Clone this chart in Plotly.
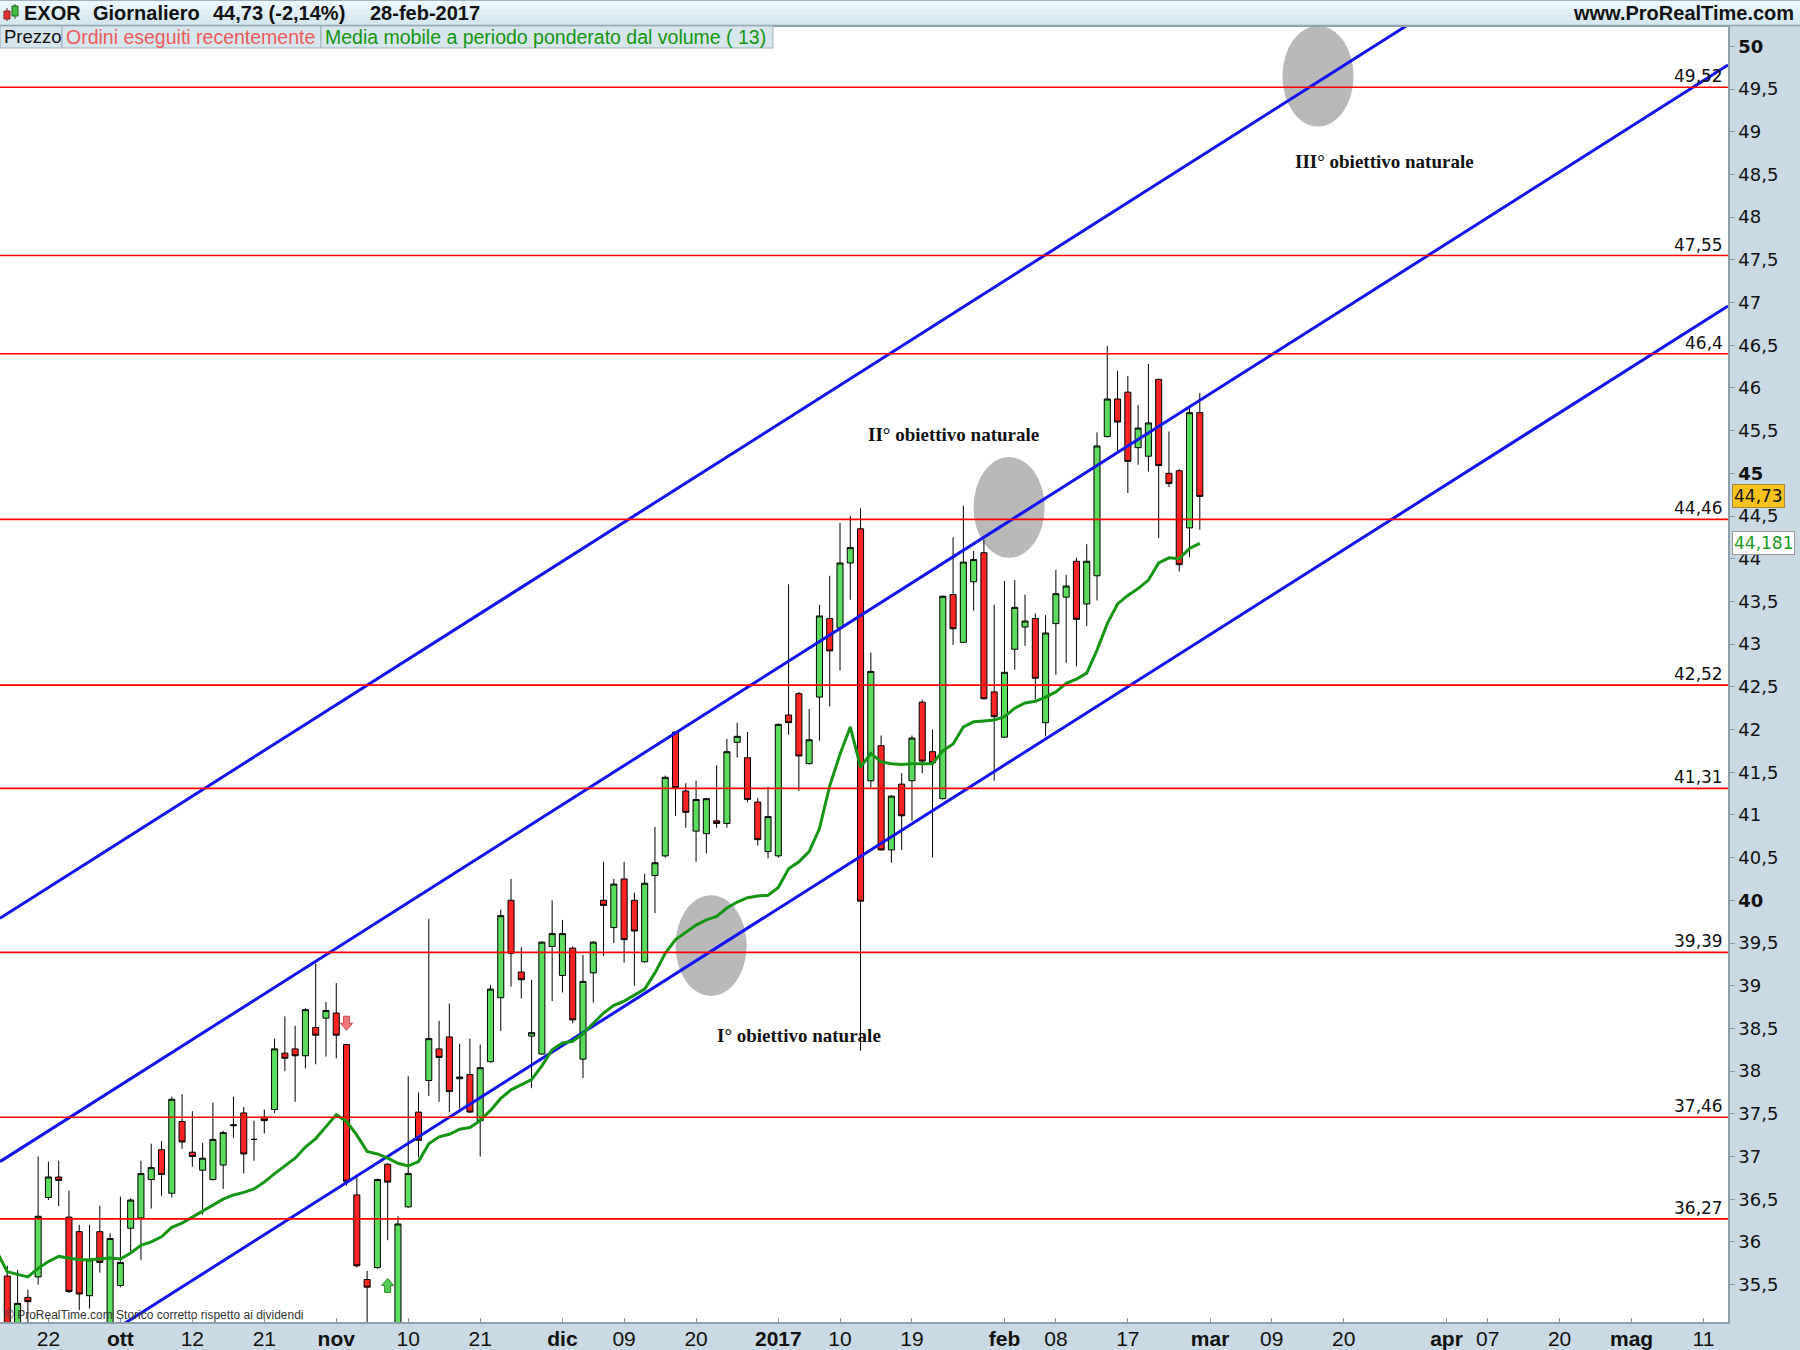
import pandas as pd
import numpy as np
import plotly.graph_objects as go

# ---------------- data ----------------
holidays = ['2016-12-26', '2017-04-14', '2017-04-17', '2017-05-01']
trading_days = [d.strftime('%Y-%m-%d') for d in pd.bdate_range('2016-09-16', '2017-05-31')
                if d.strftime('%Y-%m-%d') not in holidays]
day_index = {d: i for i, d in enumerate(trading_days)}

opens = [35.60, 34.95, 35.35, 35.59, 36.52, 36.76, 36.29, 36.12, 35.37, 36.12,
         34.95, 35.49, 36.16, 36.28, 36.73, 37.08, 36.57, 37.41, 37.05, 36.84,
         36.73, 36.90, 37.36, 37.51, 37.20, 37.46, 37.55, 38.21, 38.26, 38.18,
         38.51, 38.62, 38.68, 38.31, 36.55, 35.56, 35.70, 36.91, 34.95, 36.41,
         37.52, 37.89, 38.26, 38.40, 37.91, 37.96, 37.42, 38.11, 38.86, 40.00,
         39.16, 38.41, 38.20, 39.46, 39.12, 39.44, 38.14, 39.15, 40.00, 39.68,
         40.25, 40.00, 39.28, 40.29, 40.52, 41.97, 41.28, 40.81, 40.78, 40.93,
         40.90, 41.85, 41.67, 41.15, 40.57, 40.52, 42.17, 42.42, 41.60, 42.38,
         43.30, 43.19, 43.95, 44.35, 41.40, 41.81, 40.59, 41.36, 41.40, 42.32,
         41.74, 41.19, 43.58, 43.02, 43.73, 44.07, 42.44, 41.91, 42.94, 43.20,
         43.30, 42.08, 43.24, 43.55, 43.97, 43.47, 43.80, 45.43, 45.87, 45.95,
         45.30, 45.20, 46.10, 45.00, 45.03, 44.36, 45.71]
highs = [35.72, 35.67, 35.44, 37.00, 36.94, 36.95, 36.60, 36.20, 36.20, 36.42,
         36.10, 36.53, 36.51, 36.95, 37.15, 37.18, 37.70, 37.73, 37.53, 37.16,
         37.63, 37.30, 37.70, 37.58, 37.42, 37.55, 38.38, 38.64, 38.53, 38.74,
         39.26, 38.81, 39.03, 38.32, 36.77, 35.66, 36.74, 36.92, 36.30, 37.94,
         37.75, 39.78, 38.59, 38.79, 38.32, 38.38, 38.31, 39.01, 39.89, 40.25,
         39.45, 39.07, 39.52, 40.00, 39.77, 39.46, 39.36, 39.52, 40.45, 40.25,
         40.45, 40.09, 40.31, 40.86, 41.46, 41.98, 41.37, 41.40, 41.20, 41.58,
         41.89, 42.08, 41.97, 41.20, 41.33, 42.07, 43.70, 42.44, 42.24, 43.46,
         43.80, 44.42, 44.50, 44.59, 42.90, 41.93, 41.23, 41.49, 41.93, 42.35,
         42.00, 43.57, 44.25, 44.62, 44.09, 44.22, 43.46, 43.74, 43.75, 43.58,
         43.36, 43.34, 43.87, 43.81, 44.01, 44.17, 45.48, 46.49, 46.20, 46.14,
         45.80, 46.28, 46.11, 45.49, 45.05, 45.80, 45.94]
lows = [34.85, 34.85, 35.05, 35.50, 36.49, 36.42, 35.40, 35.20, 35.22, 35.64,
        34.85, 35.47, 35.87, 35.79, 36.39, 36.54, 36.52, 37.09, 36.88, 36.32,
        36.72, 36.62, 37.22, 36.80, 36.95, 37.27, 37.51, 38.00, 37.64, 38.03,
        38.08, 38.17, 38.15, 36.66, 35.70, 34.95, 35.68, 36.02, 34.85, 36.40,
        36.99, 37.71, 37.64, 37.52, 37.56, 37.51, 37.00, 38.10, 38.47, 38.99,
        38.85, 37.80, 38.19, 38.82, 38.92, 38.56, 37.92, 38.80, 39.35, 39.50,
        39.27, 39.00, 39.27, 39.85, 40.50, 40.99, 40.85, 40.45, 40.55, 40.85,
        40.85, 41.67, 41.15, 40.64, 40.49, 40.50, 41.94, 41.28, 41.59, 41.87,
        42.27, 42.69, 43.52, 38.24, 41.32, 40.58, 40.44, 40.59, 40.93, 41.49,
        40.50, 41.18, 42.99, 43.01, 43.39, 42.35, 41.40, 41.90, 42.70, 42.98,
        42.35, 41.92, 42.64, 42.78, 42.74, 43.21, 43.51, 45.42, 45.25, 44.77,
        45.10, 45.02, 44.24, 44.84, 43.85, 44.02, 44.34]
closes = [34.95, 35.28, 35.30, 36.30, 36.76, 36.72, 35.42, 35.39, 35.79, 35.76,
          36.04, 35.76, 36.49, 36.80, 36.87, 36.79, 37.67, 37.17, 37.00, 36.98,
          37.20, 37.28, 37.37, 37.03, 37.20, 37.42, 38.26, 38.15, 38.18, 38.72,
          38.42, 38.71, 38.42, 36.71, 35.72, 35.47, 36.73, 36.70, 36.21, 36.80,
          37.19, 38.38, 38.16, 37.76, 37.93, 37.52, 38.04, 38.96, 39.82, 39.38,
          39.07, 38.45, 39.51, 39.61, 39.61, 38.60, 39.05, 39.51, 39.94, 40.19,
          39.54, 39.64, 40.20, 40.44, 41.44, 41.32, 41.03, 41.18, 41.19, 40.90,
          41.74, 41.92, 41.18, 40.71, 40.98, 42.06, 42.08, 41.69, 41.88, 43.33,
          42.92, 43.95, 44.13, 39.99, 42.68, 40.59, 41.22, 40.99, 41.90, 41.63,
          41.61, 43.56, 43.18, 43.96, 43.99, 42.36, 42.15, 42.67, 43.43, 43.27,
          42.60, 43.13, 43.59, 43.68, 43.29, 43.97, 45.32, 45.87, 45.60, 45.14,
          45.53, 45.59, 45.09, 44.88, 43.93, 45.71, 44.73]

# volume weighted moving average (13), starting one session before the first candle
vwma_values = [35.88, 35.65, 35.62, 35.59, 35.69, 35.77, 35.83, 35.81, 35.79, 35.79,
               35.80, 35.81, 35.80, 35.87, 35.96, 36.00, 36.06, 36.17, 36.22, 36.29,
               36.37, 36.44, 36.50, 36.55, 36.58, 36.62, 36.70, 36.80, 36.89, 36.98,
               37.11, 37.21, 37.35, 37.49, 37.41, 37.25, 37.06, 37.03, 36.98, 36.92,
               36.89, 36.94, 37.15, 37.23, 37.26, 37.32, 37.34, 37.42, 37.54, 37.68,
               37.78, 37.84, 37.90, 38.06, 38.25, 38.33, 38.35, 38.44, 38.56, 38.68,
               38.77, 38.82, 38.89, 38.96, 39.15, 39.38, 39.54, 39.63, 39.71, 39.77,
               39.81, 39.91, 39.98, 40.03, 40.05, 40.06, 40.15, 40.37, 40.45, 40.57,
               40.84, 41.34, 41.71, 42.03, 41.56, 41.72, 41.62, 41.60, 41.59, 41.60,
               41.60, 41.60, 41.75, 41.83, 42.03, 42.09, 42.10, 42.11, 42.15, 42.25,
               42.31, 42.33, 42.38, 42.44, 42.54, 42.59, 42.66, 42.93, 43.24, 43.47,
               43.57, 43.65, 43.75, 43.95, 44.01, 44.00, 44.12, 44.18]

last_close = 44.73
last_vwma = 44.181

levels = [49.52, 47.55, 46.4, 44.46, 42.52, 41.31, 39.39, 37.46, 36.27]

# price channel: prices at left and right edge of the visible axis
x_view = [-0.71, 167.38]
channel_left = [39.79, 36.94, 34.12]
channel_right = [52.63, 49.78, 46.96]

# gray "target" ellipses: centre session index, centre price
target_x = [68.46, 97.45, 127.5]
target_y = [39.47, 44.60, 49.65]
target_labels = ['I° obiettivo naturale', 'II° obiettivo naturale', 'III° obiettivo naturale']
target_label_x = [77.0, 92.0, 134.0]
target_label_y = [38.42, 45.46, 48.65]

# recent orders arrows
order_dates = ['2016-11-02', '2016-11-08']
order_prices = [38.56, 35.49]
order_side = ['sell', 'buy']

tick_dates = ['2016-09-22', '2016-10-03', '2016-10-12', '2016-10-21', '2016-11-01', '2016-11-10',
              '2016-11-21', '2016-12-01', '2016-12-09', '2016-12-20', '2017-01-02', '2017-01-10',
              '2017-01-19', '2017-02-01', '2017-02-08', '2017-02-17', '2017-03-01', '2017-03-09',
              '2017-03-20', '2017-04-03', '2017-04-07', '2017-04-20', '2017-05-02', '2017-05-11']
tick_labels = ['22', '<b>ott</b>', '12', '21', '<b>nov</b>', '10', '21', '<b>dic</b>', '09', '20',
               '<b>2017</b>', '10', '19', '<b>feb</b>', '08', '17', '<b>mar</b>', '09', '20',
               '<b>apr</b>', '07', '20', '<b>mag</b>', '11']

y_range = [35.062, 50.226]

# ---------------- layout helpers ----------------
W, H = 1800, 1350
PL, PR, PT, PB = 0, 72, 27, 28
PW, PH = W - PL - PR, H - PT - PB


def px_x(px):
    return (px - PL) / PW


def px_y(py):
    return (H - PB - py) / PH


def fmt(v):
    s = ('%.3f' % v).rstrip('0').rstrip('.')
    return s.replace('.', ',')


x_candles = list(range(len(opens)))
x_vwma = list(range(-1, len(vwma_values) - 1))

fig = go.Figure()

# channel lines
for l, r in zip(channel_left, channel_right):
    fig.add_trace(go.Scatter(x=x_view, y=[l, r], mode='lines',
                             line=dict(color='#1414f0', width=3),
                             hoverinfo='skip', showlegend=False))

fig.add_trace(go.Candlestick(
    x=x_candles, open=opens, high=highs, low=lows, close=closes,
    increasing=dict(fillcolor='#5cdc5c', line=dict(color='#000000', width=1)),
    decreasing=dict(fillcolor='#ff2424', line=dict(color='#000000', width=1)),
    whiskerwidth=0, showlegend=False))

fig.add_trace(go.Scatter(x=x_vwma, y=vwma_values, mode='lines',
                         line=dict(color='#149614', width=3),
                         hoverinfo='skip', showlegend=False))

shapes = []
annotations = []

# ellipses (below traces)
for cx, cy in zip(target_x, target_y):
    shapes.append(dict(type='circle', xref='x', yref='y', layer='below',
                       x0=cx - 3.46, x1=cx + 3.46, y0=cy - 0.59, y1=cy + 0.59,
                       fillcolor='#b9b9b9', line=dict(width=0)))

# order arrows: block arrows drawn in pixel units around the order price
arrow_down = 'M -3,7 L 3,7 L 3,0 L 6,0 L 0,-7 L -6,0 L -3,0 Z'
arrow_up = 'M -3,-7 L 3,-7 L 3,0 L 6,0 L 0,7 L -6,0 L -3,0 Z'
for d, p, s in zip(order_dates, order_prices, order_side):
    sell = s == 'sell'
    shapes.append(dict(type='path', xref='x', yref='y', xsizemode='pixel', ysizemode='pixel',
                       xanchor=day_index[d], yanchor=p,
                       path=arrow_down if sell else arrow_up,
                       fillcolor='#f07878' if sell else '#52cc52',
                       line=dict(color='#d04a4a' if sell else '#2a8a2a', width=1),
                       layer='above'))

# horizontal levels
for lv in levels:
    shapes.append(dict(type='line', xref='paper', yref='y', x0=0, x1=1, y0=lv, y1=lv,
                       line=dict(color='#ff0000', width=1.6), layer='above'))
    annotations.append(dict(xref='paper', yref='y', x=px_x(1725), y=lv, text=fmt(lv),
                            xanchor='right', yanchor='bottom', showarrow=False, yshift=-1,
                            font=dict(family='DejaVu Sans', size=17, color='#111111')))

# header bar (cheap vertical gradient)
header_cols = ['#ecf7fb', '#e6f3f8', '#e0eff5', '#dbebf2', '#d5e7ef']
band = 25 / len(header_cols)
for i, c in enumerate(header_cols):
    shapes.append(dict(type='rect', xref='paper', yref='paper', layer='above',
                       x0=px_x(0), x1=px_x(W), y0=px_y(band * (i + 1)), y1=px_y(band * i),
                       fillcolor=c, line=dict(width=0)))
shapes.append(dict(type='line', xref='paper', yref='paper', layer='above',
                   x0=px_x(0), x1=px_x(W), y0=px_y(25.5), y1=px_y(25.5),
                   line=dict(color='#8fa3b0', width=1.5)))
shapes.append(dict(type='line', xref='paper', yref='paper', layer='above',
                   x0=px_x(0), x1=px_x(W), y0=px_y(0.5), y1=px_y(0.5),
                   line=dict(color='#9fb1bc', width=1)))
# small candle icon
shapes += [
    dict(type='line', xref='paper', yref='paper', layer='above', x0=px_x(7), x1=px_x(7),
         y0=px_y(21), y1=px_y(8), line=dict(color='#7a2020', width=1)),
    dict(type='rect', xref='paper', yref='paper', layer='above', x0=px_x(4), x1=px_x(10),
         y0=px_y(19), y1=px_y(11), fillcolor='#e83030', line=dict(color='#7a2020', width=1)),
    dict(type='line', xref='paper', yref='paper', layer='above', x0=px_x(15), x1=px_x(15),
         y0=px_y(19), y1=px_y(4), line=dict(color='#206020', width=1)),
    dict(type='rect', xref='paper', yref='paper', layer='above', x0=px_x(12), x1=px_x(18),
         y0=px_y(16), y1=px_y(6), fillcolor='#40c040', line=dict(color='#206020', width=1)),
]

hdr_font = dict(family='Liberation Sans', size=20, color='#111111')
for txt, xp in [('<b>EXOR</b>', 22), ('<b>Giornaliero</b>', 91),
                ('<b>44,73 (-2,14%)</b>', 211), ('<b>28-feb-2017</b>', 368)]:
    annotations.append(dict(xref='paper', yref='paper', x=px_x(xp), y=px_y(13), text=txt,
                            xanchor='left', yanchor='middle', showarrow=False, font=hdr_font))
annotations.append(dict(xref='paper', yref='paper', x=px_x(1796), y=px_y(13),
                        text='<b>www.ProRealTime.com</b>', xanchor='right', yanchor='middle',
                        showarrow=False, font=hdr_font))

# legend row
legend_items = [('Prezzo', '#111111', 0, 62, 18.5),
                ('Ordini eseguiti recentemente', '#f05a5a', 62, 321, 19.5),
                ('Media mobile a periodo ponderato dal volume ( 13)', '#129612', 321, 773, 19.5)]
for txt, col, a, b, fs in legend_items:
    shapes.append(dict(type='rect', xref='paper', yref='paper', layer='above',
                       x0=px_x(a), x1=px_x(b), y0=px_y(48), y1=px_y(26),
                       fillcolor='#d7e5ec', line=dict(color='#9db1bd', width=1)))
    annotations.append(dict(xref='paper', yref='paper', x=px_x(a + 1.5), y=px_y(37), text=txt,
                            xanchor='left', yanchor='middle', showarrow=False,
                            font=dict(family='Liberation Sans', size=fs, color=col)))

# target labels
for t, tx, ty in zip(target_labels, target_label_x, target_label_y):
    annotations.append(dict(xref='x', yref='y', x=tx, y=ty, text='<b>%s</b>' % t,
                            showarrow=False, xanchor='center', yanchor='middle',
                            font=dict(family='Liberation Serif', size=19, color='#111111')))

# watermark
annotations.append(dict(xref='paper', yref='paper', x=px_x(3), y=px_y(1315),
                        text='© ProRealTime.com Storico corretto rispetto ai dividendi',
                        xanchor='left', yanchor='middle', showarrow=False,
                        font=dict(family='Liberation Sans', size=12, color='#333333')))

# price tags on the axis
annotations.append(dict(xref='paper', yref='y', x=px_x(1732), y=last_close, text=fmt(last_close),
                        xanchor='left', yanchor='middle', showarrow=False,
                        bgcolor='#f7c21c', bordercolor='#a08a40', borderwidth=1, borderpad=1,
                        font=dict(family='DejaVu Sans', size=17, color='#111111')))
annotations.append(dict(xref='paper', yref='y', x=px_x(1732), y=last_vwma, text=fmt(last_vwma),
                        xanchor='left', yanchor='middle', showarrow=False,
                        bgcolor='#ffffff', bordercolor='#9a9a9a', borderwidth=1, borderpad=1,
                        font=dict(family='DejaVu Sans', size=17, color='#1a9a1a')))

yticks = list(np.arange(35.5, 50.01, 0.5))
yticktext = ['<b>%s</b>' % fmt(v) if abs(v - round(v / 5) * 5) < 1e-9 else fmt(v) for v in yticks]

fig.update_layout(
    width=W, height=H,
    margin=dict(l=PL, r=PR, t=PT, b=PB, autoexpand=False),
    paper_bgcolor='#c9dae4', plot_bgcolor='#ffffff',
    boxgap=0.16, showlegend=False, hovermode=False,
    shapes=shapes, annotations=annotations,
    xaxis=dict(range=x_view, tickvals=[day_index[d] for d in tick_dates], ticktext=tick_labels,
               showgrid=False, zeroline=False, ticks='inside', ticklen=4, tickcolor='#8a9aa5',
               ticklabelstandoff=-3,
               tickfont=dict(family='Liberation Sans', size=21, color='#111111'),
               showline=True, linecolor='#8fa1ad', linewidth=1.5, mirror=True,
               rangeslider=dict(visible=False), automargin=False, fixedrange=True),
    yaxis=dict(range=y_range, side='right', tickvals=yticks, ticktext=yticktext,
               showgrid=False, zeroline=False, ticks='outside', ticklen=5, tickcolor='#8a9aa5',
               tickfont=dict(family='DejaVu Sans', size=18, color='#111111'),
               showline=True, linecolor='#8fa1ad', linewidth=1.5, mirror=True,
               automargin=False, fixedrange=True),
)

reset_css = ("document.documentElement.style.margin='0';document.body.style.margin='0';"
             "document.body.style.padding='0';document.body.style.overflow='hidden';")
fig.write_html('out.html', post_script=reset_css, config={'displayModeBar': False})
